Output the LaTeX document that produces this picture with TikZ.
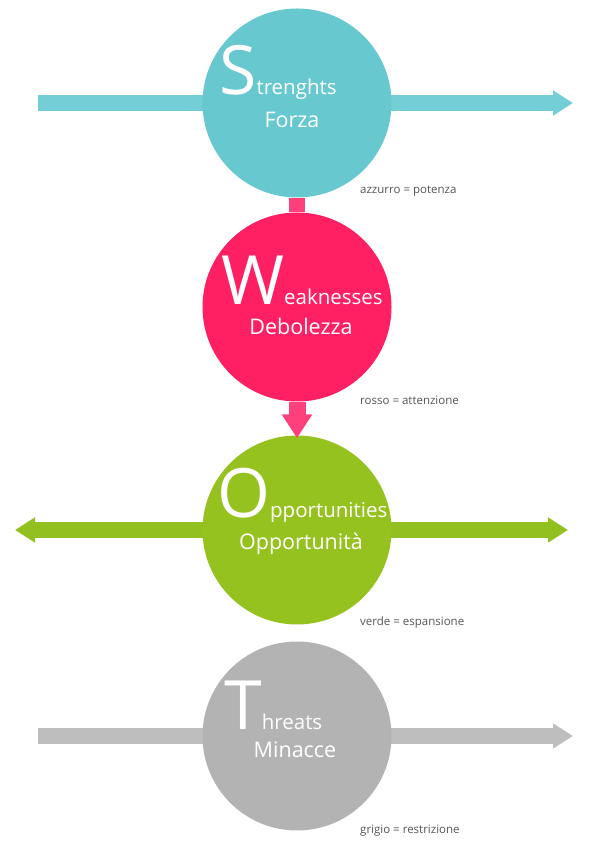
\documentclass[tikz,border=0pt]{standalone}
\usepackage{fontspec}
\setmainfont{Open Sans}
\usetikzlibrary{arrows.meta,positioning,backgrounds}
\definecolor{strCol}{RGB}{103,200,208}
\definecolor{strArr}{RGB}{116,206,213}
\definecolor{weaCol}{RGB}{255,31,99}
\definecolor{weaArr}{RGB}{255,64,124}
\definecolor{oppCol}{RGB}{150,194,31}
\definecolor{oppArr}{RGB}{146,192,32}
\definecolor{thrCol}{RGB}{179,179,179}
\definecolor{thrArr}{RGB}{190,190,190}
\definecolor{noteCol}{RGB}{85,85,85}
\newcommand{\bigini}[1]{{\fontsize{68}{68}\selectfont #1}}
\tikzset{
    circ/.style={circle,draw=none,minimum size=189pt,inner sep=0pt},
    bar/.style={line width=16pt},
    harr/.style={bar,-{Triangle[length=20pt,width=24pt]}},
    varr/.style={line width=17pt,-{Triangle[length=24pt,width=29pt]}},
    title/.style={anchor=base west,text=white,font=\fontsize{20.5}{20}\selectfont,inner sep=0pt},
    sub/.style={anchor=base,text=white,font=\fontsize{21.5}{21}\selectfont,inner sep=0pt},
    note/.style={anchor=base west,text=noteCol,font=\fontsize{11.5}{12}\selectfont,inner sep=0pt}
}
\begin{document}
\begin{tikzpicture}[x=1pt,y=1pt]
    \useasboundingbox (0,0) rectangle (595,842);

    \node[circ,fill=strCol] (str) at (297,739) {};
    \node[circ,fill=weaCol] (wea) at (297,535) {};
    \node[circ,fill=oppCol] (opp) at (297,312) {};
    \node[circ,fill=thrCol] (thr) at (297,106) {};

    \coordinate (strL) at (38,739);
    \coordinate (strR) at (573,739);
    \coordinate (oppL) at (15,312);
    \coordinate (oppR) at (568,312);
    \coordinate (thrL) at (38,106);
    \coordinate (thrR) at (573,106);

    \begin{scope}[on background layer]
        \draw[bar,strArr] (strL) -- (str.center);
        \draw[harr,strArr] (str.center) -- (strR);
        \draw[harr,oppArr] (opp.center) -- (oppL);
        \draw[harr,oppArr] (opp.center) -- (oppR);
        \draw[bar,thrArr] (thrL) -- (thr.center);
        \draw[harr,thrArr] (thr.center) -- (thrR);
    \end{scope}

    \draw[line width=16pt,weaArr] (str.south) -- (wea.north);
    \draw[varr,weaArr] (wea.south) -- ([yshift=-3pt]opp.north);

    \node[title] (strT) at (219,747) {\bigini{S}trenghts};
    \node[sub]   (strS) at (292,714) {Forza};
    \node[title] (weaT) at (221,537) {\bigini{W}eaknesses};
    \node[sub]   (weaS) at (301,507) {Debolezza};
    \node[title] (oppT) at (217,324) {\bigini{O}pportunities};
    \node[sub]   (oppS) at (301,292) {Opportunità};
    \node[title] (thrT) at (224,112) {\bigini{T}hreats};
    \node[sub]   (thrS) at (295,84)  {Minacce};

    \node[note] (strN) at (360,648) {azzurro = potenza};
    \node[note] (weaN) at (360,437) {rosso = attenzione};
    \node[note] (oppN) at (360,216) {verde = espansione};
    \node[note] (thrN) at (360,9)   {grigio = restrizione};
\end{tikzpicture}
\end{document}
